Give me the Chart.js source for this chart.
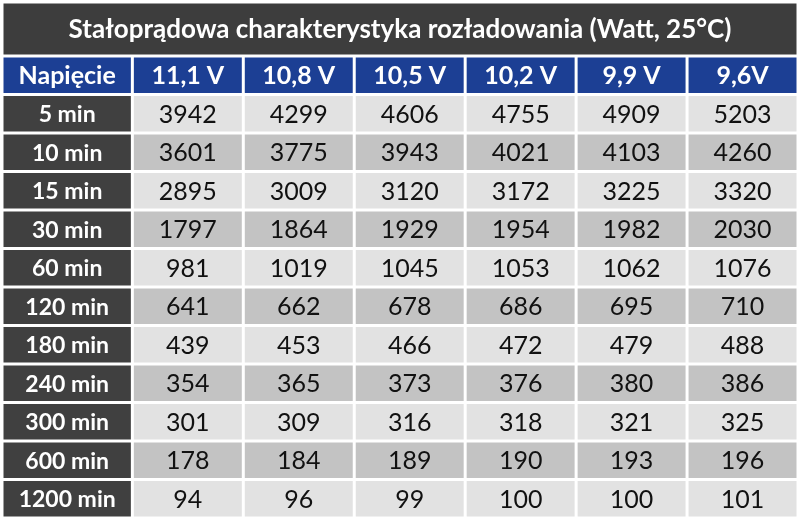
<!DOCTYPE html>
<html><head><meta charset="utf-8">
<script src="https://cdn.jsdelivr.net/npm/chart.js@4"></script>
<style>html,body{margin:0;padding:0;background:#fff}</style>
</head><body>
<canvas id="c" width="800" height="520"></canvas>
<script>
const title = 'Stałoprądowa charakterystyka rozładowania (Watt, 25°C)';
const cornerLabel = 'Napięcie';
const voltages = ['11,1 V','10,8 V','10,5 V','10,2 V','9,9 V','9,6V'];
const durations = ['5 min','10 min','15 min','30 min','60 min','120 min','180 min','240 min','300 min','600 min','1200 min'];
const v111 = [3942,3601,2895,1797,981,641,439,354,301,178,94];
const v108 = [4299,3775,3009,1864,1019,662,453,365,309,184,96];
const v105 = [4606,3943,3120,1929,1045,678,466,373,316,189,99];
const v102 = [4755,4021,3172,1954,1053,686,472,376,318,190,100];
const v99  = [4909,4103,3225,1982,1062,695,479,380,321,193,100];
const v96  = [5203,4260,3320,2030,1076,710,488,386,325,196,101];
const columns = [v111,v108,v105,v102,v99,v96];

const FONT = 'Lato, "Open Sans", sans-serif';
const tablePlugin = {
  id:'table',
  afterDraw(chart){
    const {ctx, chartArea:a, scales:{x,y}} = chart;
    const g = 1.5;
    const cell = (x0,x1,y0,y1,fill)=>{ctx.fillStyle=fill;ctx.fillRect(x0+g,y0+g,x1-x0-2*g,y1-y0-2*g);};
    const txt = (s,cx,cy,font,col)=>{ctx.font=font;ctx.fillStyle=col;ctx.textAlign='center';ctx.textBaseline='middle';ctx.fillText(s,cx,cy+1);};
    ctx.save();
    cell(a.left,a.right,2,a.top,'#3d3d3d');
    txt(title,(a.left+a.right)/2,(2+a.top)/2,'bold 26px '+FONT,'#fff');
    const xL = x.getPixelForValue(x.min), xR = x.getPixelForValue(-0.5);
    const rowEdge = i => [y.getPixelForValue(i-0.5), y.getPixelForValue(i+0.5)];
    let [h0,h1] = rowEdge(0);
    cell(xL,xR,h0,h1,'#1c3f94');
    txt(cornerLabel,(xL+xR)/2,(h0+h1)/2,'bold 25px '+FONT,'#fff');
    voltages.forEach((v,j)=>{
      const c0=x.getPixelForValue(j-0.5), c1=x.getPixelForValue(j+0.5);
      cell(c0,c1,h0,h1,'#1c3f94');
      txt(v,(c0+c1)/2,(h0+h1)/2,'bold 25px '+FONT,'#fff');
    });
    durations.forEach((d,i)=>{
      const [r0,r1] = rowEdge(i+1);
      cell(xL,xR,r0,r1,'#404040');
      txt(d,(xL+xR)/2,(r0+r1)/2,'bold 23px '+FONT,'#fff');
      columns.forEach((col,j)=>{
        const c0=x.getPixelForValue(j-0.5), c1=x.getPixelForValue(j+0.5);
        cell(c0,c1,r0,r1,i%2===0?'#e2e2e2':'#c3c3c3');
        txt(String(col[i]),(c0+c1)/2,(r0+r1)/2,'25px '+FONT,'#111');
      });
    });
    ctx.restore();
  }
};

new Chart(document.getElementById('c'),{
  type:'scatter',
  data:{datasets:[]},
  options:{
    responsive:false, animation:false,
    layout:{padding:{left:2,right:2,top:56,bottom:2}},
    plugins:{legend:{display:false},tooltip:{enabled:false}},
    scales:{
      x:{type:'linear',min:-1.675,max:5.5,display:false},
      y:{type:'linear',min:-0.5,max:durations.length+0.5,reverse:true,display:false}
    }
  },
  plugins:[tablePlugin]
});
</script>
</body></html>
